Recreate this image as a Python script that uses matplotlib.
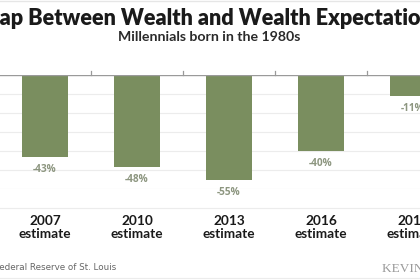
"""Gap between wealth and wealth expectations - millennials born in the 1980s."""

import matplotlib.pyplot as plt
from matplotlib.lines import Line2D
from matplotlib.transforms import blended_transform_factory

years = ["2007", "2010", "2013", "2016", "2019"]
gaps = [-43, -48, -55, -40, -11]
gap_labels = ["-43%", "-48%", "-55%", "-40%", "-11%"]

title = "The Gap Between Wealth and Wealth Expectations"
subtitle = "Millennials born in the 1980s"
source = "Source: Federal Reserve of St. Louis"

W, H = 420, 280
bar_color = "#7a8e5f"
label_color = "#8d9680"


def px(x):
    return x / W


def py(y):
    return 1 - y / H


def text_width(fig, s, **kw):
    t = fig.text(0, 0, s, **kw)
    w = t.get_window_extent(renderer=fig.canvas.get_renderer()).width
    t.remove()
    return w


def main():
    fig = plt.figure(figsize=(W / 100, H / 100), dpi=100)
    fig.patch.set_facecolor("white")

    # plot area: zero line at y=75 px, -60 at y=189 px
    ax = fig.add_axes([0, py(189.4), 1, py(75) - py(189.4)])
    x = list(range(len(years)))
    ax.bar(x, gaps, width=0.5, color=bar_color, zorder=2)
    ax.set_xlim(-0.489, -0.489 + W / 92)
    ax.set_ylim(-60, 0)
    for v in range(-60, 0, 10):
        ax.axhline(v, color="#ececec", lw=0.8, zorder=1)
    ax.axhline(0, color="#9a9a9a", lw=1.0, zorder=3)
    for xt in [0.5, 1.5, 2.5, 3.5]:
        ax.plot([xt, xt], [0, 2.2], color="#9a9a9a", lw=0.9, clip_on=False, zorder=3)
    for s in ax.spines.values():
        s.set_visible(False)
    ax.set_xticks([])
    ax.set_yticks([])

    for xi, v, lab in zip(x, gaps, gap_labels):
        ax.annotate(lab, (xi, v), xytext=(0, -9), textcoords="offset points",
                    ha="center", va="center", fontsize=7.3, fontweight="bold",
                    color=label_color, family="Open Sans")

    trans = blended_transform_factory(ax.transData, fig.transFigure)
    for xi, yr in zip(x, years):
        ax.text(xi, py(221), yr, transform=trans, ha="center", va="center",
                fontsize=9.8, fontweight="bold", color="#1a1a1a", family="Lato",
                clip_on=False)
        ax.text(xi, py(234), "estimate", transform=trans, ha="center", va="center",
                fontsize=9.8, fontweight="bold", color="#1a1a1a", family="Lato",
                clip_on=False)

    # title, cropped on both sides like the source image
    tkw = dict(fontsize=14, fontweight="heavy", family="Lato")
    visible = text_width(fig, "ap Between Wealth and Wealth Expectatio", **tkw)
    tkw["fontsize"] *= 422 / visible
    prefix = text_width(fig, "The G", **tkw)
    fig.text(px(-prefix), py(18.5), title, ha="left", va="center", color="#1a1a1a", **tkw)

    fig.text(px(209), py(37), subtitle, ha="center", va="center", fontsize=10.2,
             fontweight="bold", color="#2a2a2a", family="Lato")

    skw = dict(fontsize=6.3, family="DejaVu Sans")
    spre = text_width(fig, "Source: F", **skw)
    fig.text(px(-spre), py(268), source, ha="left", va="center", color="#666666", **skw)
    fig.text(px(382), py(268.5), "KEVIN DRUM", ha="left", va="center", fontsize=9.5,
             family="Liberation Serif", color="#9a9a9a")

    for yy in (208, 278):
        fig.add_artist(Line2D([0, 1], [py(yy), py(yy)], color="#ececec", lw=0.8))
    fig.add_artist(Line2D([0, 1], [py(0.5), py(0.5)], color="#e6e6e6", lw=1))

    fig.savefig("out.png", dpi=100, facecolor="white")


if __name__ == "__main__":
    main()
